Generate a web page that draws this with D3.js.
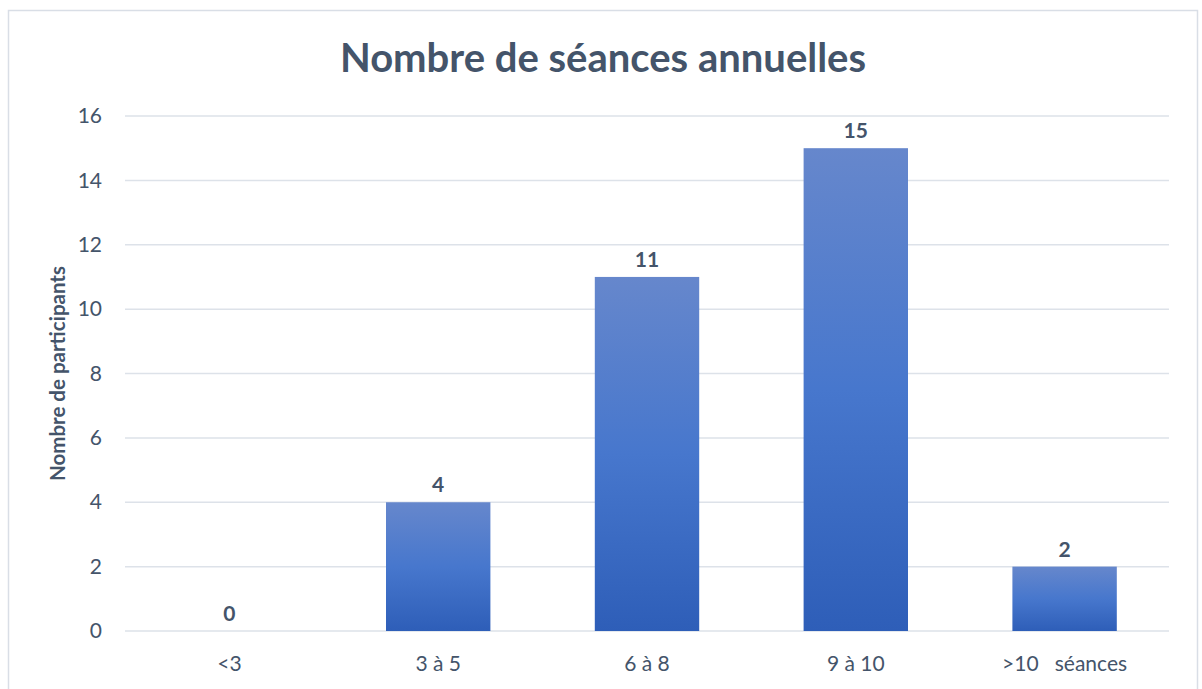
<!DOCTYPE html>
<html><head><meta charset="utf-8">
<script src="https://cdn.jsdelivr.net/npm/d3@7"></script>
<style>html,body{margin:0;padding:0;background:#fff;}svg{display:block;}</style>
</head><body>
<svg id="c" width="1202" height="689"></svg>
<script>
const categories = ["<3", "3 à 5", "6 à 8", "9 à 10", ">10   séances"];
const values = [0, 4, 11, 15, 2];
const yTicks = [0, 2, 4, 6, 8, 10, 12, 14, 16];
const title = "Nombre de séances annuelles";
const yTitle = "Nombre de participants";

const W = 1202, H = 689;
const m = {left: 125, right: 1169, top: 116, bottom: 631};
const font = "Lato, 'Open Sans', sans-serif";
const textCol = "#44546A";

const svg = d3.select("#c");
svg.append("rect").attr("x", 8.5).attr("y", 10.5).attr("width", 1189).attr("height", 700)
  .attr("fill", "#fff").attr("stroke", "#D9DEE6").attr("stroke-width", 1.5);

const defs = svg.append("defs");
const g = defs.append("linearGradient").attr("id", "bg").attr("x1", 0).attr("y1", 0).attr("x2", 0).attr("y2", 1);
g.append("stop").attr("offset", "0%").attr("stop-color", "#6687CC");
g.append("stop").attr("offset", "50%").attr("stop-color", "#4777CD");
g.append("stop").attr("offset", "100%").attr("stop-color", "#2E5EB8");

const x = d3.scaleBand().domain(categories).range([m.left, m.right]).paddingInner(0.5).paddingOuter(0.25);
const y = d3.scaleLinear().domain([0, 16]).range([m.bottom, m.top]);

// gridlines
svg.append("g").selectAll("line").data(yTicks).join("line")
  .attr("x1", m.left).attr("x2", m.right)
  .attr("y1", d => y(d)).attr("y2", d => y(d))
  .attr("stroke", "#DDE2E9").attr("stroke-width", 1.5);

// y axis labels
const yAxis = d3.axisLeft(y).tickValues(yTicks).tickSize(0).tickPadding(0);
const ya = svg.append("g").attr("transform", `translate(${m.left - 23},0)`).call(yAxis);
ya.select(".domain").remove();
ya.selectAll("text").attr("font-family", font).attr("font-size", 21).attr("fill", textCol).attr("text-anchor", "end");

// x axis labels
const xAxis = d3.axisBottom(x).tickSize(0).tickPadding(0);
const xa = svg.append("g").attr("transform", `translate(0,${m.bottom + 25})`).call(xAxis);
xa.select(".domain").remove();
xa.selectAll("text").attr("font-family", font).attr("font-size", 21).attr("fill", textCol).attr("xml:space", "preserve").style("white-space", "pre");

// bars
svg.append("g").selectAll("rect").data(values).join("rect")
  .attr("x", (d, i) => x(categories[i]))
  .attr("width", x.bandwidth())
  .attr("y", d => y(d))
  .attr("height", d => y(0) - y(d))
  .attr("fill", "url(#bg)");

// data labels
svg.append("g").selectAll("text").data(values).join("text")
  .attr("x", (d, i) => x(categories[i]) + x.bandwidth() / 2)
  .attr("y", d => y(d) - 10)
  .attr("text-anchor", "middle")
  .attr("font-family", font).attr("font-weight", "bold").attr("font-size", 21)
  .attr("fill", textCol).text(d => d);

// title
svg.append("text").attr("x", 603).attr("y", 72).attr("text-anchor", "middle")
  .attr("font-family", font).attr("font-weight", "bold").attr("font-size", 40)
  .attr("fill", textCol).text(title);

// y title
svg.append("text").attr("transform", `translate(65,${(m.top + m.bottom) / 2}) rotate(-90)`)
  .attr("text-anchor", "middle")
  .attr("font-family", font).attr("font-weight", "bold").attr("font-size", 20.5)
  .attr("fill", textCol).text(yTitle);
</script>
</body></html>
